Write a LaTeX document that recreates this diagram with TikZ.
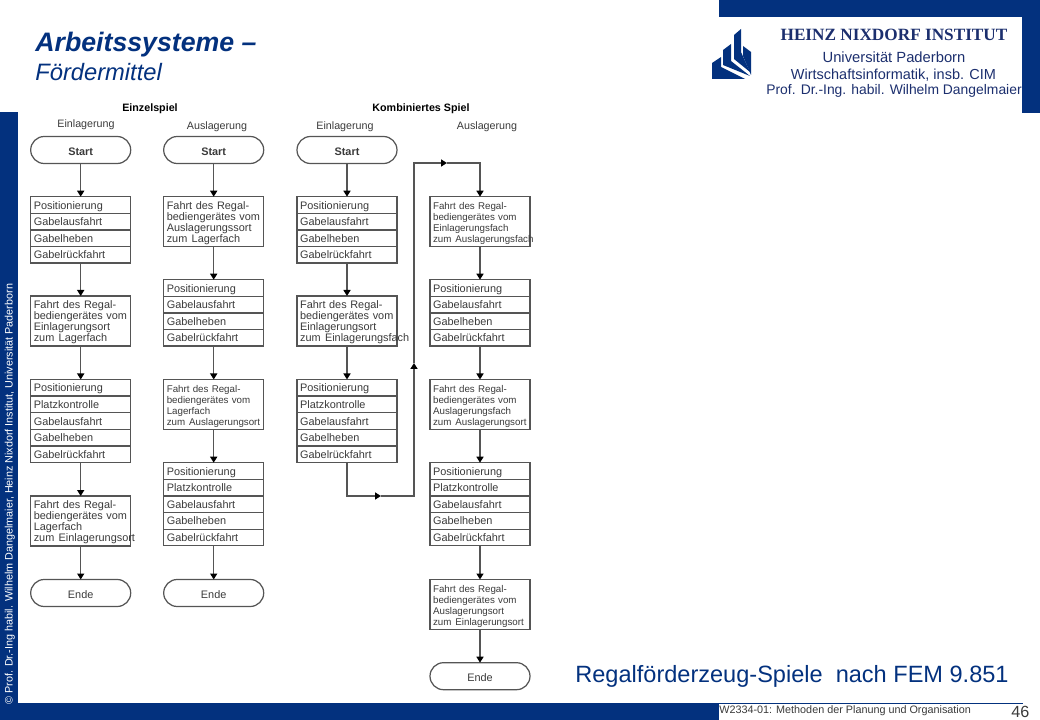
\documentclass[tikz,border=0pt]{standalone}
\usepackage{fontspec}
\setmainfont{Liberation Sans}
\newfontfamily\logoserif{Liberation Serif}
\usepackage{xcolor}
\definecolor{hnblue}{HTML}{03317E}
\definecolor{logoink}{HTML}{1C2F6E}
\definecolor{flowink}{HTML}{3A3A3A}
\definecolor{flowline}{HTML}{555555}
\usetikzlibrary{arrows.meta}
\usetikzlibrary{calc}
\newcommand{\sizepx}[1]{\fontsize{#1}{#1}\selectfont}
\newcommand{\gapzum}{\ \kern0.4pt}
\tikzset{
  rowbox/.style={draw=flowline, line width=0.7pt, outer sep=0pt, rectangle, anchor=north west, inner xsep=0.62mm, inner ysep=0pt,
    minimum width=20mm, minimum height=3.32mm, text width=18.76mm, align=left, text=flowink, font=\fontsize{6.2}{6.3}\selectfont,
    execute at begin node={\rule[-1.5pt]{0pt}{7.6pt}}},
  fahrtbox/.style={rowbox, minimum height=10mm, font=\fontsize{6.2}{6.3}\selectfont,
    execute at begin node={\rule{0pt}{5.7pt}}},
  fahrtklein/.style={fahrtbox, font=\fontsize{5.55}{6.3}\selectfont},
  endbox/.style={draw=flowline, line width=0.7pt, outer sep=0pt, rectangle, rounded corners=2.7mm, anchor=north west, inner sep=0pt,
    minimum width=20mm, minimum height=5.4mm, text=flowink, font=\fontsize{6.2}{6.3}\selectfont,
    execute at begin node={\rule[-1.2pt]{0pt}{8.1pt}}},
  flow/.style={draw=flowline, line width=0.85pt, -{Triangle[length=1.2mm, width=1.4mm, color=black]}},
  headlabel/.style={text=flowink, inner sep=0pt, font=\fontsize{6.1}{7}\selectfont},
  headbold/.style={text=black, inner sep=0pt, font=\fontsize{6.1}{7}\selectfont\bfseries},
  logotext/.style={text=logoink, inner sep=0pt},
}
\begin{document}
\begin{tikzpicture}[x=0.2mm, y=-0.2mm]
    \useasboundingbox (0,0) rectangle (1040,720);
    % frame
    \fill[hnblue] (0,112) rectangle (18,720);
    \fill[hnblue] (0,703) rectangle (719,720);
    \fill[hnblue] (719,0) rectangle (1040,17);
    \fill[hnblue] (1022,0) rectangle (1040,113);
    \coordinate (foota) at (719,703);
    \coordinate (footb) at (1023,703);
    \draw[hnblue, line width=0.5pt] (foota) -- (footb);

    % logo
    \fill[hnblue] (712,63) -- (721,57) -- (721,67) -- (745,79) -- (712,79) -- cycle;
    \fill[hnblue] (723,50) -- (731,44) -- (731,61) -- (750,76) -- (723,65) -- cycle;
    \fill[hnblue] (734,35) -- (741,29) -- (741,52) -- (750,72) -- (734,59) -- cycle;
    \fill[hnblue] (743,46) -- (751,52) -- (751,75) -- (743,56) -- cycle;
    \node[logotext, font=\logoserif\bfseries\sizepx{9.8}] (logoa) at (894,35) {HEINZ NIXDORF INSTITUT};
    \node[logotext, font=\sizepx{8.4}] (logob) at (894,57) {Universität Paderborn};
    \node[logotext, font=\sizepx{8.25}] (logoc) at (893.5,75) {Wirtschaftsinformatik, insb. CIM};
    \node[logotext, font=\sizepx{7.9}] (logod) at (894,91) {Prof. Dr.-Ing. habil. Wilhelm Dangelmaier};

    % titles
    \node[text=hnblue, inner sep=0pt, anchor=base west, font=\sizepx{15.2}\bfseries\itshape] (title) at (35,52) {Arbeitssysteme --};
    \node[text=hnblue, inner sep=0pt, anchor=base west, font=\sizepx{13.5}\itshape] (subtitle) at (35,81) {Fördermittel};
    \node[text=hnblue, inner sep=0pt, anchor=base west, font=\sizepx{13.4}] (caption) at (575,682) {Regalförderzeug-Spiele\ \ nach FEM 9.851};
    \node[text=flowink, inner sep=0pt, anchor=base west, font=\sizepx{6.15}] (footer) at (719,713) {W2334-01: Methoden der Planung und Organisation};
    \node[text=flowink, inner sep=0pt, anchor=base west, font=\sizepx{9.2}] (pageno) at (1011,717) {46};
    \node[text=white, inner sep=0pt, anchor=base west, rotate=90, font=\sizepx{6.14}] (side) at (12.5,705) {© Prof. Dr.-Ing habil. Wilhelm Dangelmaier, Heinz Nixdorf Institut, Universität Paderborn};

    % headings
    \node[headbold] (einzel) at (150,108.5) {Einzelspiel};
    \node[headbold] (kombi) at (421,108.5) {Kombiniertes Spiel};
    \node[headlabel] (heada) at (86,125) {Einlagerung};
    \node[headlabel] (headb) at (217,127) {Auslagerung};
    \node[headlabel] (headc) at (345,127) {Einlagerung};
    \node[headlabel] (headd) at (487,127) {Auslagerung};

    % Einzelspiel, Einlagerung
    \node[endbox] (astart) at (30.7,136.5) {\bfseries Start};
    \node[rowbox] (a1) at (30.7,196.7) {Positionierung};
    \node[rowbox] (a2) at (30.7,213.3) {Gabelausfahrt};
    \node[rowbox] (a3) at (30.7,229.9) {Gabelheben};
    \node[rowbox] (a4) at (30.7,246.5) {Gabelrückfahrt};
    \node[fahrtbox] (a5) at (30.7,296) {Fahrt des Regal-\\bediengerätes vom\\Einlagerungsort\\\mbox{zum\gapzum Lagerfach}};
    \node[rowbox] (a6) at (30.7,379.5) {Positionierung};
    \node[rowbox] (a7) at (30.7,396.1) {Platzkontrolle};
    \node[rowbox] (a8) at (30.7,412.7) {Gabelausfahrt};
    \node[rowbox] (a9) at (30.7,429.4) {Gabelheben};
    \node[rowbox] (a10) at (30.7,446) {Gabelrückfahrt};
    \node[fahrtbox] (a11) at (30.7,496) {Fahrt des Regal-\\bediengerätes vom\\Lagerfach\\\mbox{zum\gapzum Einlagerungsort}};
    \node[endbox] (aende) at (30.7,579.5) {Ende};

    % Einzelspiel, Auslagerung
    \node[endbox] (bstart) at (163.7,136.5) {\bfseries Start};
    \node[fahrtbox] (b1) at (163.7,196.7) {Fahrt des Regal-\\bediengerätes vom\\Auslagerungssort\\\mbox{zum\gapzum Lagerfach}};
    \node[rowbox] (b2) at (163.7,279.7) {Positionierung};
    \node[rowbox] (b3) at (163.7,296.3) {Gabelausfahrt};
    \node[rowbox] (b4) at (163.7,312.9) {Gabelheben};
    \node[rowbox] (b5) at (163.7,329.5) {Gabelrückfahrt};
    \node[fahrtklein] (b6) at (163.7,379.5) {Fahrt des Regal-\\bediengerätes vom\\Lagerfach\\\mbox{zum\gapzum Auslagerungsort}};
    \node[rowbox] (b7) at (163.7,462.7) {Positionierung};
    \node[rowbox] (b8) at (163.7,479.3) {Platzkontrolle};
    \node[rowbox] (b9) at (163.7,495.9) {Gabelausfahrt};
    \node[rowbox] (b10) at (163.7,512.6) {Gabelheben};
    \node[rowbox] (b11) at (163.7,529.2) {Gabelrückfahrt};
    \node[endbox] (bende) at (163.7,579.5) {Ende};

    % Kombiniertes Spiel, Einlagerung
    \node[endbox] (cstart) at (297,136.5) {\bfseries Start};
    \node[rowbox] (c1) at (297,196.7) {Positionierung};
    \node[rowbox] (c2) at (297,213.3) {Gabelausfahrt};
    \node[rowbox] (c3) at (297,229.9) {Gabelheben};
    \node[rowbox] (c4) at (297,246.5) {Gabelrückfahrt};
    \node[fahrtbox] (c5) at (297,296) {Fahrt des Regal-\\bediengerätes vom\\Einlagerungsort\\\mbox{zum\gapzum Einlagerungsfach}};
    \node[rowbox] (c6) at (297,379.5) {Positionierung};
    \node[rowbox] (c7) at (297,396.1) {Platzkontrolle};
    \node[rowbox] (c8) at (297,412.7) {Gabelausfahrt};
    \node[rowbox] (c9) at (297,429.4) {Gabelheben};
    \node[rowbox] (c10) at (297,446) {Gabelrückfahrt};

    % Kombiniertes Spiel, Auslagerung
    \node[fahrtklein] (d1) at (430,196.7) {Fahrt des Regal-\\bediengerätes vom\\Einlagerungsfach\\\mbox{zum\gapzum Auslagerungsfach}};
    \node[rowbox] (d2) at (430,279.7) {Positionierung};
    \node[rowbox] (d3) at (430,296.3) {Gabelausfahrt};
    \node[rowbox] (d4) at (430,312.9) {Gabelheben};
    \node[rowbox] (d5) at (430,329.5) {Gabelrückfahrt};
    \node[fahrtklein] (d6) at (430,379.5) {Fahrt des Regal-\\bediengerätes vom\\Auslagerungsfach\\\mbox{zum\gapzum Auslagerungsort}};
    \node[rowbox] (d7) at (430,462.7) {Positionierung};
    \node[rowbox] (d8) at (430,479.3) {Platzkontrolle};
    \node[rowbox] (d9) at (430,495.9) {Gabelausfahrt};
    \node[rowbox] (d10) at (430,512.6) {Gabelheben};
    \node[rowbox] (d11) at (430,529.2) {Gabelrückfahrt};
    \node[fahrtklein] (d12) at (430,579.5) {Fahrt des Regal-\\bediengerätes vom\\Auslagerungsort\\\mbox{zum\gapzum Einlagerungsort}};
    \node[endbox] (dende) at (430,662.7) {Ende};

    % connectors
    \foreach \from/\to in {astart/a1, a4/a5, a5/a6, a10/a11, a11/aende,
                           bstart/b1, b1/b2, b5/b6, b6/b7, b11/bende,
                           cstart/c1, c4/c5, c5/c6,
                           d1/d2, d5/d6, d6/d7, d11/d12, d12/dende}
      \draw[flow] (\from.south) -- (\to.north);

    % loop from Einlagerung to Auslagerung
    \coordinate (loopa) at (c10.south |- 0,496);
    \coordinate (loopb) at (414,496);
    \coordinate (loopc) at (414,163);
    \coordinate (loopd) at (d1.north |- 0,163);
    \coordinate (tipa) at (381,496);
    \coordinate (tipb) at (414,363);
    \coordinate (tipc) at (447,163);
    \draw[flow] (c10.south) -- (loopa) -- (tipa);
    \draw[flow] (tipa) -- (loopb) -- (tipb);
    \draw[flow] (tipb) -- (loopc) -- (tipc);
    \draw[flow] (tipc) -- (loopd) -- (d1.north);
  \end{tikzpicture}
\end{document}
